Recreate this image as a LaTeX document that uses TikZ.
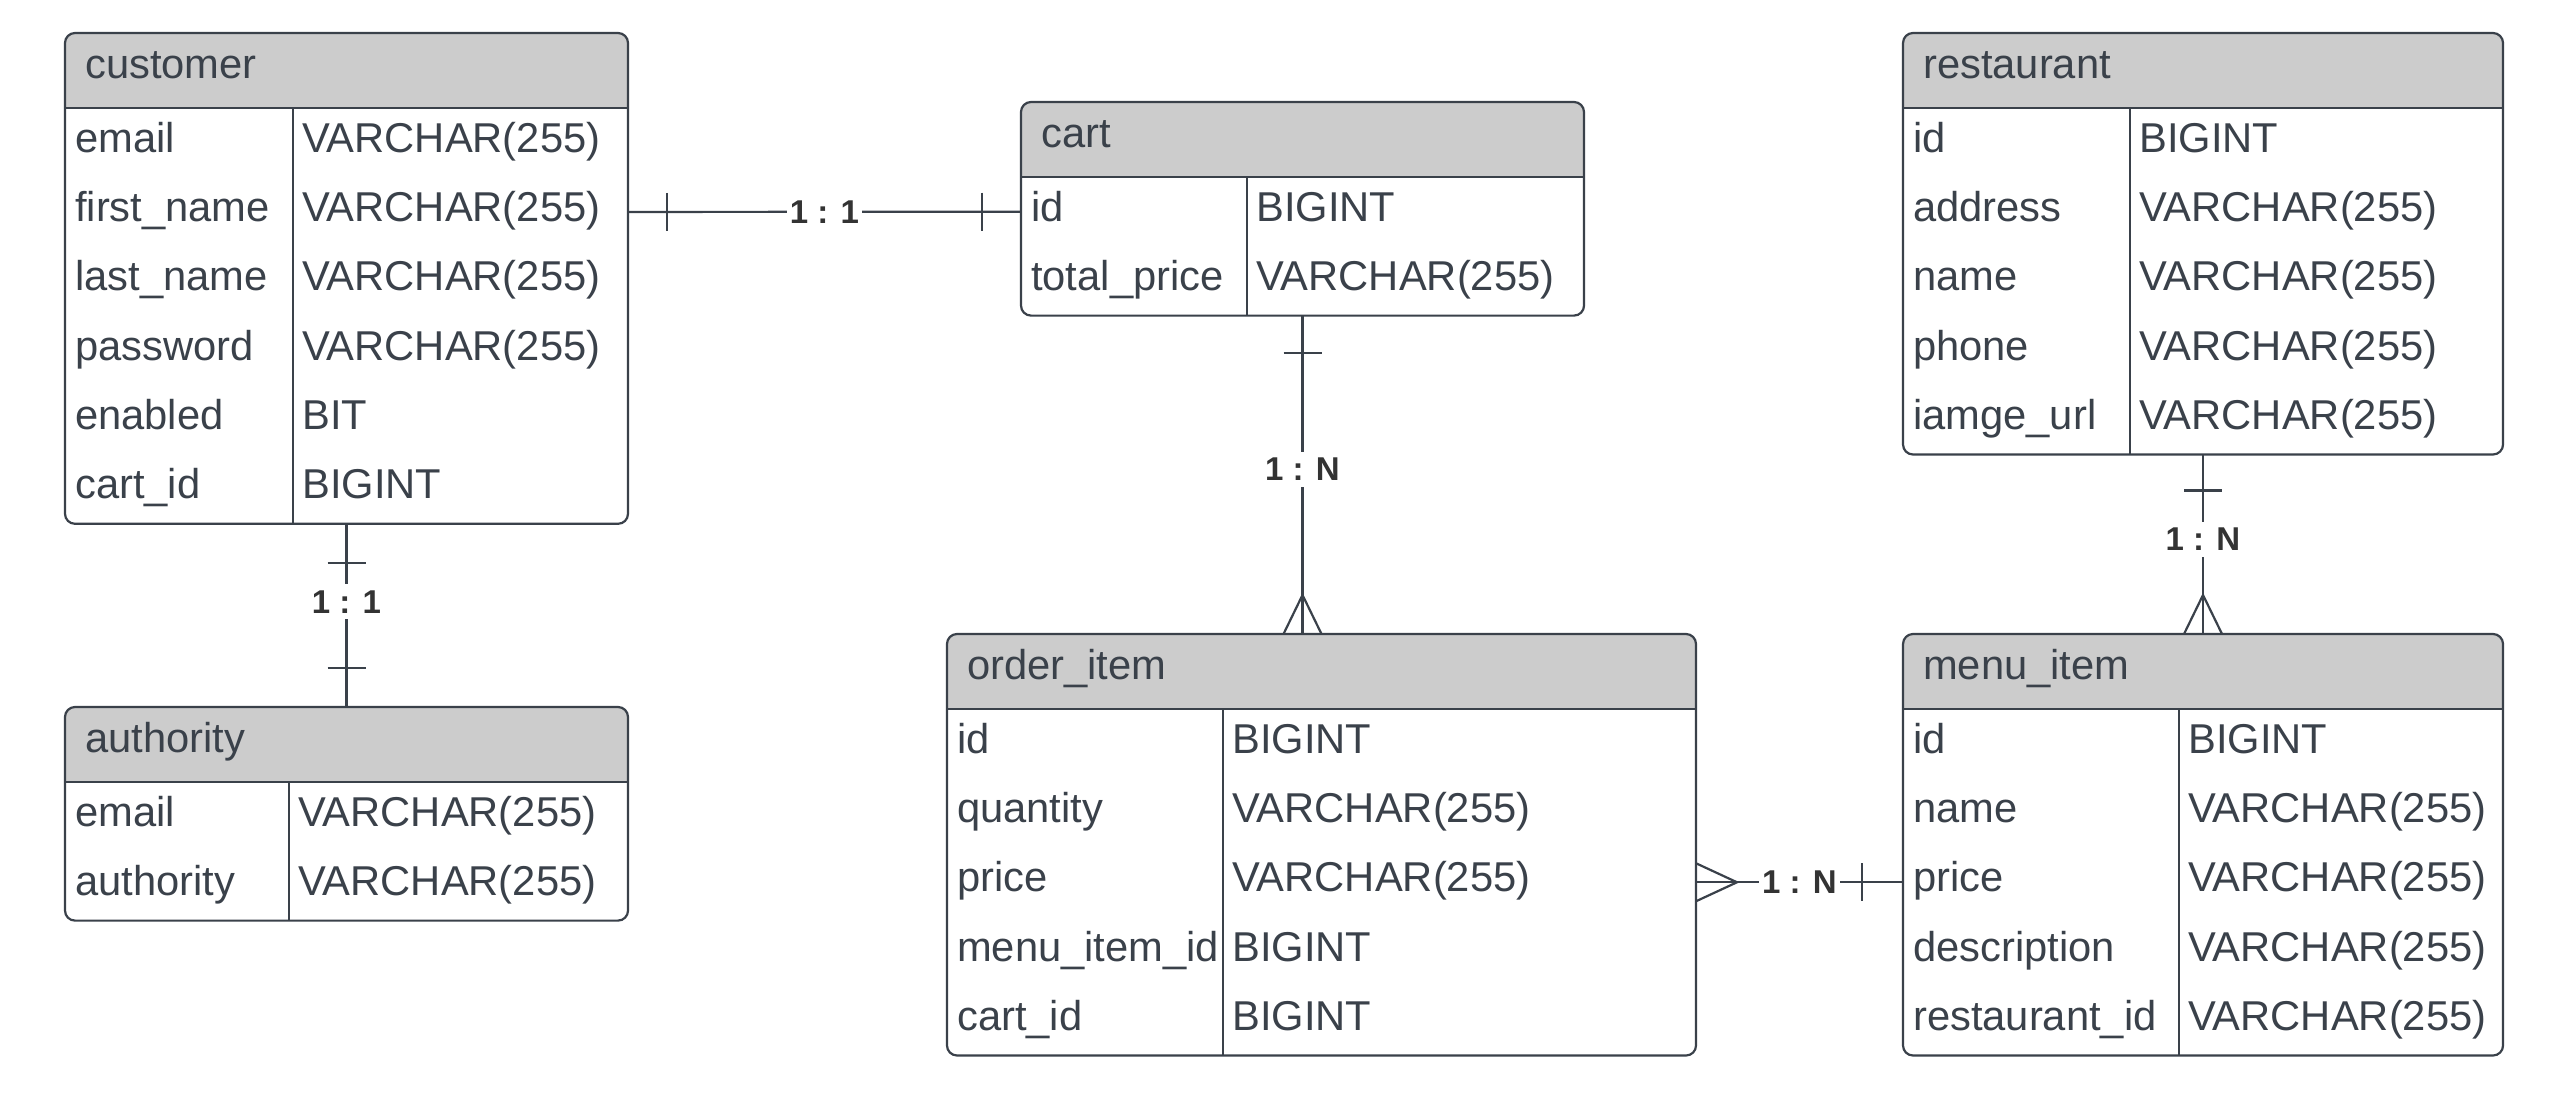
\documentclass[tikz,border=0pt]{standalone}
\usepackage{fontspec}
\setmainfont{Liberation Sans}
\usetikzlibrary{calc}
\definecolor{ink}{RGB}{58,65,74}
\definecolor{hdr}{RGB}{204,204,204}
\definecolor{lblc}{RGB}{51,51,51}
\tikzset{
  tblbox/.style={draw=ink, line width=2.2pt, rounded corners=10pt, inner sep=0pt, outer sep=0pt},
  fld/.style={inner sep=0pt, text=ink, font=\fontsize{41.7}{50}\selectfont},
  rel/.style={draw=ink, line width=2.2pt},
  lbl/.style={fill=white, text=lblc, inner xsep=3pt, inner ysep=6pt, font=\fontsize{33}{39}\selectfont\bfseries},
}
\newcommand\ertable[8]{%
  \pgfmathsetmacro\erhb{#3+75}%
  \pgfmathsetmacro\eryb{\erhb+#7*69.3}%
  \pgfmathsetmacro\erw{#4-#2}%
  \pgfmathsetmacro\erh{\eryb-#3}%
  \begin{scope}
    \clip[rounded corners=10pt] (#2,#3) rectangle (#4,\eryb);
    \fill[hdr] (#2,#3) rectangle (#4,\erhb);
  \end{scope}
  \draw[ink, line width=2.2pt] (#2,\erhb) -- (#4,\erhb);
  \draw[ink, line width=2.2pt] (#5,\erhb) -- (#5,\eryb);
  \node[tblbox, minimum width=\erw pt, minimum height=\erh pt, anchor=north west] (#1) at (#2,#3) {};
  \node[fld, anchor=base west] (#1-title) at (#2+20,#3+45) {#6};
  \foreach \ef/\et [count=\ei] in {#8} {
    \pgfmathsetmacro\errc{\erhb+(\ei-0.5)*69.3}
    \coordinate (#1-r\ei) at (#2,\errc);
    \node[fld, anchor=base west] (#1-f\ei) at (#2+10,\errc+9.5) {\ef};
    \node[fld, anchor=base west] (#1-t\ei) at (#5+9,\errc+9.5) {\et};
  }%
}
\begin{document}
\begin{tikzpicture}[x=1pt, y=-1pt]
\useasboundingbox (0,0) rectangle (2550,1112);
\fill[white] (0,0) rectangle (2550,1112);

\ertable{customer}{65}{33}{628}{293}{customer}{6}{email/VARCHAR(255), first\_name/VARCHAR(255), last\_name/VARCHAR(255), password/VARCHAR(255), enabled/BIT, cart\_id/BIGINT}
\ertable{authority}{65}{707}{628}{289}{authority}{2}{email/VARCHAR(255), authority/VARCHAR(255)}
\ertable{cart}{1021}{102}{1584}{1247}{cart}{2}{id/BIGINT, total\_price/VARCHAR(255)}
\ertable{restaurant}{1903}{33}{2503}{2130}{restaurant}{5}{id/BIGINT, address/VARCHAR(255), name/VARCHAR(255), phone/VARCHAR(255), iamge\_url/VARCHAR(255)}
\ertable{orderitem}{947}{634}{1696}{1223}{order\_item}{5}{id/BIGINT, quantity/VARCHAR(255), price/VARCHAR(255), menu\_item\_id/BIGINT, cart\_id/BIGINT}
\ertable{menuitem}{1903}{634}{2503}{2179}{menu\_item}{5}{id/BIGINT, name/VARCHAR(255), price/VARCHAR(255), description/VARCHAR(255), restaurant\_id/VARCHAR(255)}

% customer -- cart
\coordinate (a1) at (customer.east |- customer-r2);
\coordinate (a2) at (cart.west |- cart-r1);
\draw[rel] (a1) -- (a2);
\draw[rel] ($(a1)+(39,-19)$) -- ++(0,38);
\draw[rel] ($(a2)+(-39,-19)$) -- ++(0,38);
\node[lbl] (lab1) at ($(a1)!0.5!(a2)$) {1 : 1};

% customer -- authority
\coordinate (b1) at (customer.south);
\coordinate (b2) at (authority.north);
\draw[rel] (b1) -- (b2);
\draw[rel] ($(b1)+(-19,39)$) -- ++(38,0);
\draw[rel] ($(b2)+(-19,-39)$) -- ++(38,0);
\node[lbl] (lab2) at ($(b1)+(0,78)$) {1 : 1};

% cart -- order_item
\coordinate (c1) at (cart.south);
\coordinate (c2) at (cart.south |- orderitem.north);
\draw[rel] (c1) -- (c2);
\draw[rel] ($(c1)+(-19,37)$) -- ++(38,0);
\draw[rel] ($(c2)+(-19,0)$) -- ($(c2)+(0,-39)$) -- ($(c2)+(19,0)$);
\node[lbl] (lab3) at ($(c1)+(0,154)$) {1 : N};

% restaurant -- menu_item
\coordinate (d1) at (restaurant.south);
\coordinate (d2) at (menuitem.north);
\draw[rel] (d1) -- (d2);
\draw[rel] ($(d1)+(-19,36)$) -- ++(38,0);
\draw[rel] ($(d2)+(-19,0)$) -- ($(d2)+(0,-39)$) -- ($(d2)+(19,0)$);
\node[lbl] (lab4) at ($(d1)+(0,85)$) {1 : N};

% order_item -- menu_item
\coordinate (e1) at (orderitem.east |- orderitem-r3);
\coordinate (e2) at (menuitem.west |- menuitem-r3);
\draw[rel] (e1) -- (e2);
\draw[rel] ($(e1)+(0,-19)$) -- ($(e1)+(41,0)$) -- ($(e1)+(0,19)$);
\draw[rel] ($(e2)+(-41,-19)$) -- ++(0,38);
\node[lbl] (lab5) at ($(e1)!0.5!(e2)$) {1 : N};
\end{tikzpicture}
\end{document}
